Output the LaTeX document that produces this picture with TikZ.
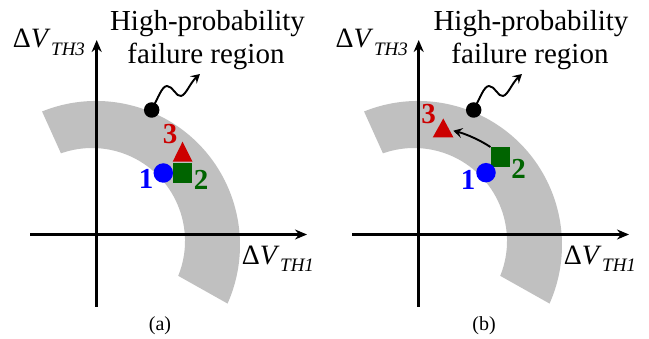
\documentclass[tikz,border=0pt]{standalone}
\usepackage{fontspec}
\setmainfont{Liberation Serif}
\usetikzlibrary{arrows.meta,calc}
\definecolor{ringgray}{RGB}{192,192,192}
\definecolor{mkblue}{RGB}{0,0,255}
\definecolor{mkgreen}{RGB}{0,100,0}
\definecolor{mkred}{RGB}{204,0,0}
\newcommand{\dvlab}[1]{\fontsize{28}{28}\selectfont Δ\textit{V}\kern0.5pt\raisebox{-7.5pt}{\fontsize{19}{19}\selectfont\textit{TH#1}}}
\begin{document}
\begin{tikzpicture}[x=1pt,y=-1pt,
  axisline/.style={line width=2.6pt,-{Stealth[length=12pt,width=10pt]}},
  ringfill/.style={fill=ringgray},
  blackdot/.style={circle,fill=black,minimum size=15.5pt,inner sep=0pt},
  bluedot/.style={circle,fill=mkblue,minimum size=19.5pt,inner sep=0pt},
  greensq/.style={rectangle,fill=mkgreen,minimum size=19.5pt,inner sep=0pt},
  redtri/.style={fill=mkred},
  numlab/.style={font=\fontsize{29}{29}\selectfont\bfseries,inner sep=0pt,anchor=base},
  headtext/.style={font=\fontsize{29}{29}\selectfont,inner sep=0pt,anchor=base},
  axlab/.style={inner sep=0pt,anchor=base west},
  caplab/.style={font=\fontsize{20}{20}\selectfont,inner sep=0pt,anchor=base},
  wavyarrow/.style={line width=1.9pt,-{Stealth[length=9pt,width=10pt,inset=3.5pt]}},
  movearrow/.style={line width=1.9pt,-{Stealth[length=9pt,width=10pt,inset=3.5pt]}}
]
\useasboundingbox (0,0) rectangle (649,339);

% ---------------- panel (a) ----------------
\begin{scope}
\fill[ringfill] ($(96,245)+(-112:144)$) arc[start angle=-112,end angle=24,radius=144]
  -- ($(92,241)+(22:93)$) arc[start angle=22,end angle=-109.5,radius=93] -- cycle;
\coordinate (a-yb) at (96.7,307);
\coordinate (a-yt) at (96.7,40);
\coordinate (a-xl) at (30,234.5);
\coordinate (a-xr) at (307,234.5);
\draw[axisline] (a-yb) -- (a-yt);
\draw[axisline] (a-xl) -- (a-xr);
\node[axlab] (a-ylab) at (12.7,47.7) {\dvlab{3}};
\node[axlab] (a-xlab) at (241.7,264.3) {\dvlab{1}};
\node[headtext] (a-h1) at (207.5,30.7) {High-probability};
\node[headtext] (a-h2) at (206,63.3) {failure region};
\node[blackdot] (a-dot) at (151.7,110) {};
\coordinate (a-tip) at (200,74);
\draw[wavyarrow] (a-dot.center) .. controls (158,98) and (162,86) .. (167,86)
  .. controls (173,86) and (176,97) .. (181,96)
  .. controls (186,95) and (190,83) .. (a-tip);
\fill[redtri] (172.7,161.7) -- (182.5,141.7) -- (192.5,161.7) -- cycle;
\coordinate (a-tri) at (182.5,154);
\node[greensq] (a-sq) at (182.6,173) {};
\node[bluedot] (a-c) at (163.3,173) {};
\node[numlab,text=mkblue] (a-n1) at (146,188.5) {1};
\node[numlab,text=mkgreen] (a-n2) at (201,190) {2};
\node[numlab,text=mkred] (a-n3) at (170,143.3) {3};
\node[caplab] (a-cap) at (160,331) {(a)};
\end{scope}

% ---------------- panel (b) ----------------
\begin{scope}[xshift=322pt]
\fill[ringfill] ($(96,245)+(-112:144)$) arc[start angle=-112,end angle=24,radius=144]
  -- ($(92,241)+(22:93)$) arc[start angle=22,end angle=-109.5,radius=93] -- cycle;
\coordinate (b-yb) at (96.7,307);
\coordinate (b-yt) at (96.7,40);
\coordinate (b-xl) at (30,234.5);
\coordinate (b-xr) at (307,234.5);
\draw[axisline] (b-yb) -- (b-yt);
\draw[axisline] (b-xl) -- (b-xr);
\node[axlab] (b-ylab) at (13.5,47.7) {\dvlab{3}};
\node[axlab] (b-xlab) at (241.7,264.3) {\dvlab{1}};
\node[headtext] (b-h1) at (209,30.7) {High-probability};
\node[headtext] (b-h2) at (208,63.3) {failure region};
\node[blackdot] (b-dot) at (151.7,110) {};
\coordinate (b-tip) at (200,74);
\draw[wavyarrow] (b-dot.center) .. controls (158,98) and (162,86) .. (167,86)
  .. controls (173,86) and (176,97) .. (181,96)
  .. controls (186,95) and (190,83) .. (b-tip);
\fill[redtri] (110.7,137.5) -- (121.3,118.5) -- (131.5,137.5) -- cycle;
\coordinate (b-tri) at (131.3,130.7);
\node[greensq] (b-sq) at (178.4,157) {};
\node[bluedot] (b-c) at (164,172.7) {};
\draw[movearrow] (b-sq.north west) .. controls (158,140) and (144,134) .. (b-tri);
\node[numlab,text=mkblue] (b-n1) at (146,189.5) {1};
\node[numlab,text=mkgreen] (b-n2) at (196.7,178.3) {2};
\node[numlab,text=mkred] (b-n3) at (106.7,123.3) {3};
\node[caplab] (b-cap) at (162,331) {(b)};
\end{scope}
\end{tikzpicture}
\end{document}
